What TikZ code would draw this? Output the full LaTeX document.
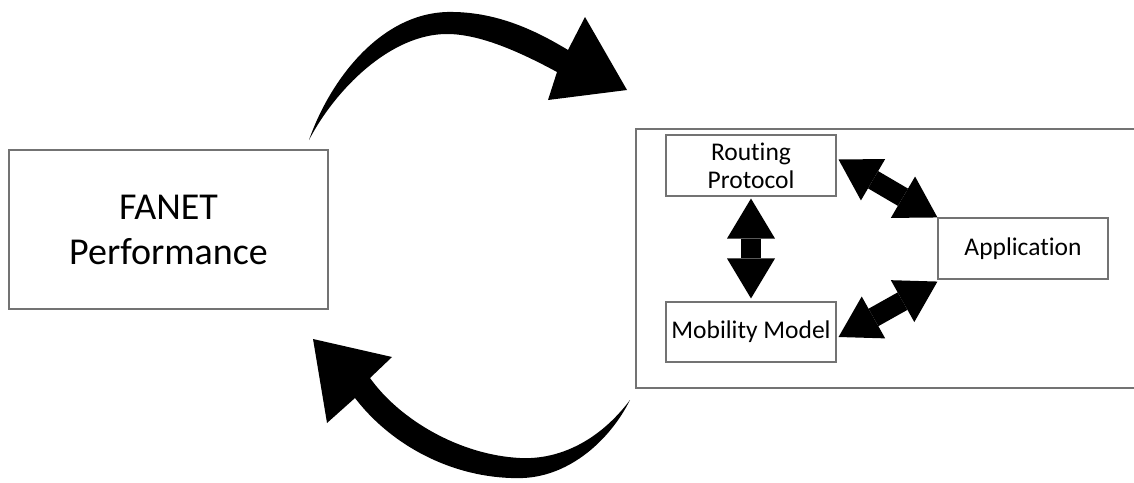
\documentclass[tikz,border=0pt]{standalone}
\usepackage{fontspec}
\setmainfont{Carlito}[Ligatures=NoCommon]
\usetikzlibrary{arrows.meta}
\begin{document}
\begin{tikzpicture}[x=1pt,y=-1pt,
  box/.style={draw=black!55, line width=1.1pt, inner sep=0pt, align=center,
    font=\fontsize{25.5}{28}\selectfont},
  bigbox/.style={box, font=\fontsize{38}{45}\selectfont},
  dbl/.style={line width=20pt, {Triangle[length=40pt,width=48pt,line width=0pt]}-{Triangle[length=40pt,width=48pt,line width=0pt]}},
  sweep/.style={fill=black},
]
\useasboundingbox (0,0) rectangle (1134,482);

% main blocks
\node[bigbox, minimum width=319pt, minimum height=159pt] (fanet) at (168.5,229.5) {FANET\\Performance};
\node[box, minimum width=504pt, minimum height=259pt] (sys) at (888,258.5) {};
\node[box, minimum width=170pt, minimum height=61pt] (rp) at (751,165.5) {Routing\\Protocol};
\node[box, minimum width=170pt, minimum height=60pt] (mm) at (751,332) {Mobility Model};
\node[box, minimum width=170pt, minimum height=61pt] (app) at (1023,248.5) {Application};

% two-way links inside the system block
\draw[dbl, shorten <=2pt, shorten >=3pt] (rp.south) -- (mm.north);
\draw[dbl] ([shift={(2,-6)}]rp.east) -- (app.north west);
\draw[dbl] ([shift={(2,5)}]mm.east) -- ([shift={(0,2)}]app.south west);

% upper sweeping arrow, from the performance block to the system block
\fill[sweep] (309,140) .. controls (330,80) and (380,14) .. (447,12)
  .. controls (495,11) and (535,30) .. (568,50)
  -- (585,17) -- (627,90) -- (548,100) -- (557,72)
  .. controls (520,52) and (480,34) .. (447,34)
  .. controls (390,34) and (335,90) .. (309,140) -- cycle;

% lower sweeping arrow, back from the system block
\fill[sweep] (630,400) .. controls (600,440) and (560,460) .. (520,458)
  .. controls (460,455) and (400,420) .. (370,378)
  -- (392,357) -- (313,339) -- (327,423) -- (355,398)
  .. controls (395,450) and (460,480) .. (523,478)
  .. controls (570,476) and (610,440) .. (630,400) -- cycle;
\end{tikzpicture}
\end{document}
